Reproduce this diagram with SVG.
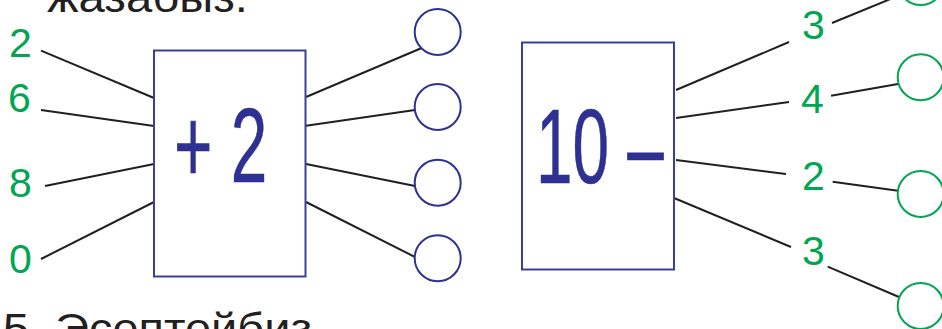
<svg xmlns="http://www.w3.org/2000/svg" width="942" height="329" viewBox="0 0 942 329">
<style>
.box{fill:#fff;stroke:#3a3f9c;stroke-width:2}
.cb{fill:#fff;stroke:#2e3192;stroke-width:2}
.cg{fill:#fff;stroke:#00a651;stroke-width:2}
.num{font-family:"Liberation Sans",Arial,sans-serif;font-size:41px;fill:#00a651}
.op{font-family:"Liberation Sans",Arial,sans-serif;font-size:106px;fill:#2e3192;stroke:#2e3192;stroke-width:0.6}
.hd{font-family:"Liberation Sans",Arial,sans-serif;font-size:42px;fill:#231f20}
.ln{stroke:#231f20;stroke-width:2;fill:none}
</style>
<rect width="942" height="329" fill="#fff"/>
<text class="hd" x="47" y="12" textLength="201" lengthAdjust="spacingAndGlyphs">жазабыз.</text>
<text class="hd" x="3" y="343" textLength="309" lengthAdjust="spacingAndGlyphs">5. Эсептейбиз</text>
<g id="connectors">
<line class="ln" x1="41" y1="50.7" x2="154" y2="98"/>
<line class="ln" x1="41" y1="110" x2="154" y2="126"/>
<line class="ln" x1="45" y1="186" x2="154" y2="164"/>
<line class="ln" x1="41" y1="259" x2="154" y2="202"/>
<line class="ln" x1="306" y1="97" x2="421.7" y2="48"/>
<line class="ln" x1="306" y1="125.7" x2="415" y2="110"/>
<line class="ln" x1="306" y1="164" x2="415" y2="186"/>
<line class="ln" x1="306" y1="202" x2="415" y2="257"/>
<line class="ln" x1="676" y1="90" x2="789" y2="42"/>
<line class="ln" x1="832" y1="23" x2="901.4" y2="-5.5"/>
<line class="ln" x1="676" y1="118" x2="789" y2="102"/>
<line class="ln" x1="831" y1="95.7" x2="898" y2="84"/>
<line class="ln" x1="676" y1="160" x2="786" y2="174"/>
<line class="ln" x1="832.7" y1="181.7" x2="898" y2="190.7"/>
<line class="ln" x1="674" y1="198" x2="791" y2="247"/>
<line class="ln" x1="827.7" y1="266.7" x2="899" y2="297"/>
</g>
<g id="in-2"><text class="num" x="9" y="57">2</text></g>
<g id="in-6"><text class="num" x="8" y="112">6</text></g>
<g id="in-8"><text class="num" x="9" y="197">8</text></g>
<g id="in-0"><text class="num" x="9" y="273">0</text></g>
<g id="box-plus2">
<rect class="box" x="154" y="50.5" width="151.5" height="226"/>
<text class="op" transform="translate(174,182) scale(0.62,1)">+ 2</text>
</g>
<g id="out-1"><circle class="cb" cx="437.7" cy="32" r="23"/></g>
<g id="out-2"><circle class="cb" cx="437.7" cy="107" r="23"/></g>
<g id="out-3"><circle class="cb" cx="437.7" cy="182.7" r="23"/></g>
<g id="out-4"><circle class="cb" cx="437.7" cy="258.3" r="23"/></g>
<g id="box-10minus">
<rect class="box" x="522" y="42.5" width="152" height="227"/>
<text class="op" transform="translate(536,183) scale(0.62,1)">10 –</text>
</g>
<g id="sub-3a"><text class="num" x="802" y="39">3</text></g>
<g id="sub-4"><text class="num" x="801" y="113">4</text></g>
<g id="sub-2"><text class="num" x="802" y="190">2</text></g>
<g id="sub-3b"><text class="num" x="802" y="265">3</text></g>
<g id="res-1"><circle class="cg" cx="920.7" cy="-18" r="23"/></g>
<g id="res-2"><circle class="cg" cx="920.7" cy="77.3" r="23"/></g>
<g id="res-3"><circle class="cg" cx="920.7" cy="194" r="23"/></g>
<g id="res-4"><circle class="cg" cx="920.7" cy="306" r="23"/></g>
</svg>
